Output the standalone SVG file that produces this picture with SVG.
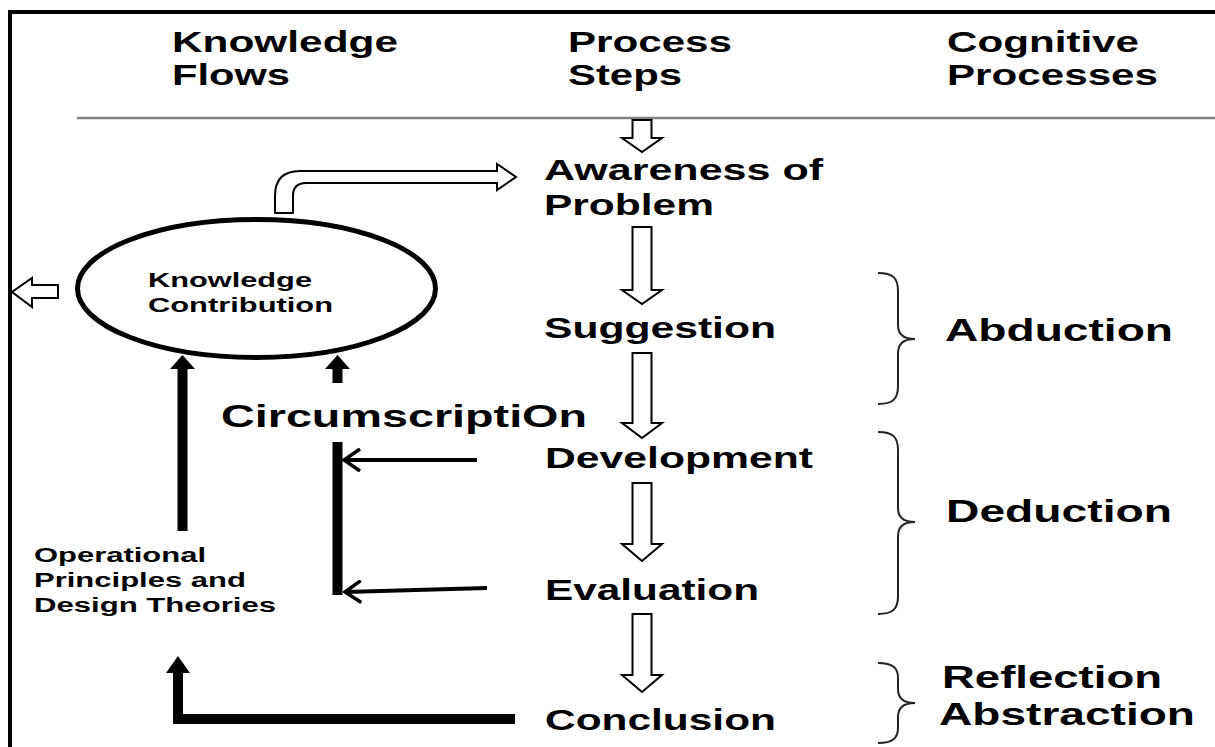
<svg xmlns="http://www.w3.org/2000/svg" width="1215" height="747" viewBox="0 0 1215 747">
  <style>
    text { font-family: "Liberation Sans", Arial, sans-serif; font-weight: bold; fill: #000; }
    .hdr { font-size: 30px; }
    .step { font-size: 29px; }
    .cog { font-size: 32px; }
    .small { font-size: 20px; }
    .hollow { fill: #fff; stroke: #000; stroke-width: 2; stroke-linejoin: miter; }
    .flow { fill: none; stroke: #000; stroke-width: 10; }
    .head { fill: #000; stroke: none; }
    .thin { fill: none; stroke: #000; stroke-width: 4; }
    .brace { fill: none; stroke: #222; stroke-width: 2; }
  </style>
  <defs>
    <marker id="openHead" viewBox="0 0 20 24" refX="18" refY="12" markerWidth="20" markerHeight="24" markerUnits="userSpaceOnUse" orient="auto">
      <path d="M2,1 L18,12 L2,23" fill="none" stroke="#000" stroke-width="3.5"/>
    </marker>
  </defs>

  <rect width="1215" height="747" fill="#fff"/>

  <!-- outer frame and header rule -->
  <path d="M10,747 V12 H1215" fill="none" stroke="#000" stroke-width="4"/>
  <line x1="77" y1="118" x2="1215" y2="118" stroke="#808080" stroke-width="2.5"/>

  <!-- column headings -->
  <g id="headings">
    <text class="hdr" x="172" y="52" textLength="226" lengthAdjust="spacingAndGlyphs">Knowledge</text>
    <text class="hdr" x="172" y="85" textLength="118" lengthAdjust="spacingAndGlyphs">Flows</text>
    <text class="hdr" x="568" y="52" textLength="164" lengthAdjust="spacingAndGlyphs">Process</text>
    <text class="hdr" x="568" y="85" textLength="114" lengthAdjust="spacingAndGlyphs">Steps</text>
    <text class="hdr" x="947" y="52" textLength="192" lengthAdjust="spacingAndGlyphs">Cognitive</text>
    <text class="hdr" x="947" y="85" textLength="211" lengthAdjust="spacingAndGlyphs">Processes</text>
  </g>

  <!-- process steps -->
  <g id="step-awareness">
    <text class="step" x="544" y="180" textLength="279" lengthAdjust="spacingAndGlyphs">Awareness of</text>
    <text class="step" x="544" y="215" textLength="170" lengthAdjust="spacingAndGlyphs">Problem</text>
  </g>
  <g id="step-suggestion">
    <text class="step" x="544" y="338" textLength="232" lengthAdjust="spacingAndGlyphs">Suggestion</text>
  </g>
  <g id="step-development">
    <text class="step" x="545" y="468" textLength="268" lengthAdjust="spacingAndGlyphs">Development</text>
  </g>
  <g id="step-evaluation">
    <text class="step" x="545" y="600" textLength="214" lengthAdjust="spacingAndGlyphs">Evaluation</text>
  </g>
  <g id="step-conclusion">
    <text class="step" x="545" y="730" textLength="231" lengthAdjust="spacingAndGlyphs">Conclusion</text>
  </g>

  <!-- knowledge contribution -->
  <g id="knowledge-contribution">
    <ellipse cx="256.5" cy="288.5" rx="179" ry="69" fill="#fff" stroke="#000" stroke-width="5"/>
    <text class="small" x="148" y="287" textLength="164" lengthAdjust="spacingAndGlyphs">Knowledge</text>
    <text class="small" x="148" y="312" textLength="185" lengthAdjust="spacingAndGlyphs">Contribution</text>
  </g>

  <g id="operational-principles">
    <text class="small" x="34" y="562" textLength="172" lengthAdjust="spacingAndGlyphs">Operational</text>
    <text class="small" x="34" y="587" textLength="212" lengthAdjust="spacingAndGlyphs">Principles and</text>
    <text class="small" x="34" y="612" textLength="242" lengthAdjust="spacingAndGlyphs">Design Theories</text>
  </g>

  <g id="circumscription">
    <text x="221" y="427" font-size="31" textLength="366" lengthAdjust="spacingAndGlyphs">CircumscriptiOn</text>
  </g>

  <!-- cognitive processes with braces -->
  <g id="abduction">
    <path class="brace" d="M878,273 C893,273 898,278 898,291 V325 C898,335 905,339 915,339 C905,339 898,343 898,353 V386 C898,399 893,404 878,404"/>
    <text class="cog" x="945" y="341" textLength="228" lengthAdjust="spacingAndGlyphs">Abduction</text>
  </g>
  <g id="deduction">
    <path class="brace" d="M878,432 C893,432 898,437 898,450 V508 C898,518 905,522 915,522 C905,522 898,526 898,536 V596 C898,609 893,614 878,614"/>
    <text class="cog" x="946" y="522" textLength="226" lengthAdjust="spacingAndGlyphs">Deduction</text>
  </g>
  <g id="reflection-abstraction">
    <path class="brace" d="M878,663 C893,663 898,668 898,678 V689 C898,699 905,703 915,703 C905,703 898,707 898,717 V728 C898,738 893,743 878,743"/>
    <text class="cog" x="942" y="688" textLength="220" lengthAdjust="spacingAndGlyphs">Reflection</text>
    <text class="cog" x="939" y="725" textLength="256" lengthAdjust="spacingAndGlyphs">Abstraction</text>
  </g>

  <!-- connectors -->
  <g id="connectors">
    <!-- hollow block arrows between process steps -->
    <path class="hollow" d="M632.5,120 H651.5 V138 H662 L642,152 L622,138 H632.5 Z"/>
    <path class="hollow" d="M632.5,227 H651.5 V290 H662 L642,304 L622,290 H632.5 Z"/>
    <path class="hollow" d="M632.5,353 H651.5 V423 H662 L642,438 L622,423 H632.5 Z"/>
    <path class="hollow" d="M632.5,483 H651.5 V544 H662 L642,561 L622,544 H632.5 Z"/>
    <path class="hollow" d="M632.5,614 H651.5 V675 H662 L642,692 L622,675 H632.5 Z"/>

    <!-- bent hollow arrow from contribution to awareness -->
    <path class="hollow" d="M275,213 V196 Q275,171 300,171 H497 V164 L516,177 L497,190 V183 H306 Q293,183 293,196 V213 Z"/>

    <!-- hollow arrow leaving to the left -->
    <path class="hollow" d="M58,285 V298 H32 V307 L12,292 L32,278 V285 Z"/>

    <!-- knowledge flows back into the contribution -->
    <line class="flow" x1="182.5" y1="531" x2="182.5" y2="366" stroke-width="11"/>
    <polygon class="head" points="170,369 195,369 182.5,355"/>
    <line class="flow" x1="337.5" y1="383" x2="337.5" y2="366" stroke-width="9"/>
    <polygon class="head" points="325,369 350,369 337.5,355"/>

    <!-- circumscription loop -->
    <line class="flow" x1="337.5" y1="442" x2="337.5" y2="595" stroke-width="9"/>
    <line class="thin" x1="477" y1="460" x2="344" y2="460" marker-end="url(#openHead)"/>
    <line class="thin" x1="487" y1="588" x2="345" y2="592" marker-end="url(#openHead)"/>

    <!-- conclusion back to operational principles -->
    <path class="flow" d="M515,719 H178 V670" stroke-width="10"/>
    <polygon class="head" points="166,673 190,673 178,656"/>
  </g>
</svg>
